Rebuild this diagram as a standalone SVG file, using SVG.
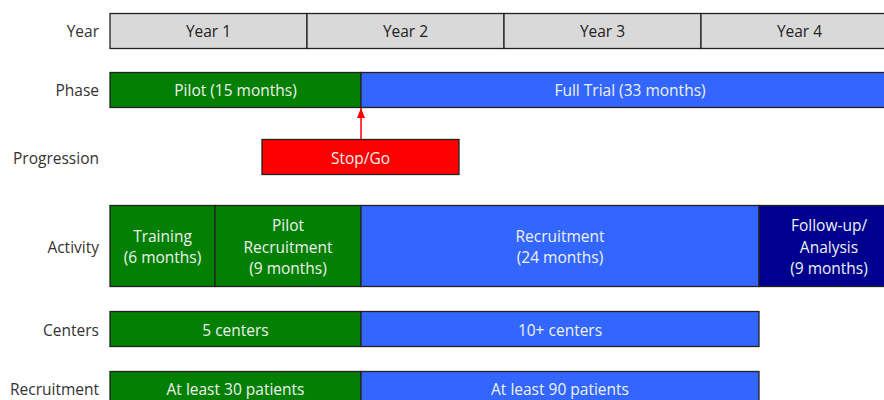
<svg xmlns="http://www.w3.org/2000/svg" width="884" height="400" viewBox="0 0 884 400">
<style>
text{font-family:"Open Sans","Liberation Sans",sans-serif;font-size:15.5px;dominant-baseline:central}
.lbl{fill:#333;text-anchor:end}
.bar{stroke:#222;stroke-width:1.3}
.yr{fill:#d9d9d9}
.g{fill:#037f03}
.b{fill:#3366ff}
.n{fill:#00008f}
.r{fill:#ff0000}
.t{fill:#eef2ee;text-anchor:middle}
.tk{fill:#222;text-anchor:middle}
</style>
<defs>
<marker id="ah" markerWidth="11" markerHeight="9" refX="10" refY="4.5" orient="auto" markerUnits="userSpaceOnUse" viewBox="0 0 11 9">
<path d="M0,0.5 L10,4.5 L0,8.5 Z" fill="#ff0000"/>
</marker>
</defs>
<g id="labels">
<text class="lbl" x="99" y="31">Year</text>
<text class="lbl" x="99" y="90">Phase</text>
<text class="lbl" x="99" y="158">Progression</text>
<text class="lbl" x="99" y="247">Activity</text>
<text class="lbl" x="99" y="330">Centers</text>
<text class="lbl" x="99" y="389">Recruitment</text>
</g>
<g id="year1"><rect class="bar yr" x="110" y="13.5" width="197" height="35"/><text class="tk" x="208.5" y="31">Year 1</text></g>
<g id="year2"><rect class="bar yr" x="307" y="13.5" width="197" height="35"/><text class="tk" x="405.5" y="31">Year 2</text></g>
<g id="year3"><rect class="bar yr" x="504" y="13.5" width="197" height="35"/><text class="tk" x="602.5" y="31">Year 3</text></g>
<g id="year4"><rect class="bar yr" x="701" y="13.5" width="197" height="35"/><text class="tk" x="799.5" y="31">Year 4</text></g>
<g id="pilot"><rect class="bar g" x="110" y="72.5" width="251" height="35"/><text class="t" x="235.5" y="90">Pilot (15 months)</text></g>
<g id="fulltrial"><rect class="bar b" x="361" y="72.5" width="537" height="35"/><text class="t" x="630" y="90">Full Trial (33 months)</text></g>
<g id="stopgo"><rect class="bar r" x="262" y="139.5" width="197" height="35"/><text class="t" x="360.5" y="158">Stop/Go</text></g>
<g id="training"><rect class="bar g" x="110" y="205.5" width="105" height="81"/><text class="t" x="162.5" y="236">Training</text><text class="t" x="162.5" y="257">(6 months)</text></g>
<g id="pilotrecruitment"><rect class="bar g" x="215" y="205.5" width="146" height="81"/><text class="t" x="288" y="225">Pilot</text><text class="t" x="288" y="247">Recruitment</text><text class="t" x="288" y="268">(9 months)</text></g>
<g id="recruitment"><rect class="bar b" x="361" y="205.5" width="398" height="81"/><text class="t" x="560" y="236">Recruitment</text><text class="t" x="560" y="257">(24 months)</text></g>
<g id="followup"><rect class="bar n" x="759" y="205.5" width="139" height="81"/><text class="t" x="829" y="225">Follow-up/</text><text class="t" x="829" y="247">Analysis</text><text class="t" x="829" y="268">(9 months)</text></g>
<g id="centers5"><rect class="bar g" x="110" y="311.5" width="251" height="35"/><text class="t" x="235.5" y="330">5 centers</text></g>
<g id="centers10"><rect class="bar b" x="361" y="311.5" width="398" height="35"/><text class="t" x="560" y="330">10+ centers</text></g>
<g id="recr30"><rect class="bar g" x="110" y="371.5" width="251" height="40"/><text class="t" x="235.5" y="389">At least 30 patients</text></g>
<g id="recr90"><rect class="bar b" x="361" y="371.5" width="398" height="40"/><text class="t" x="560" y="389">At least 90 patients</text></g>
<g id="connectors">
<line x1="361" y1="139" x2="361" y2="108" stroke="#ff0000" stroke-width="1.5" marker-end="url(#ah)"/>
</g>
</svg>
